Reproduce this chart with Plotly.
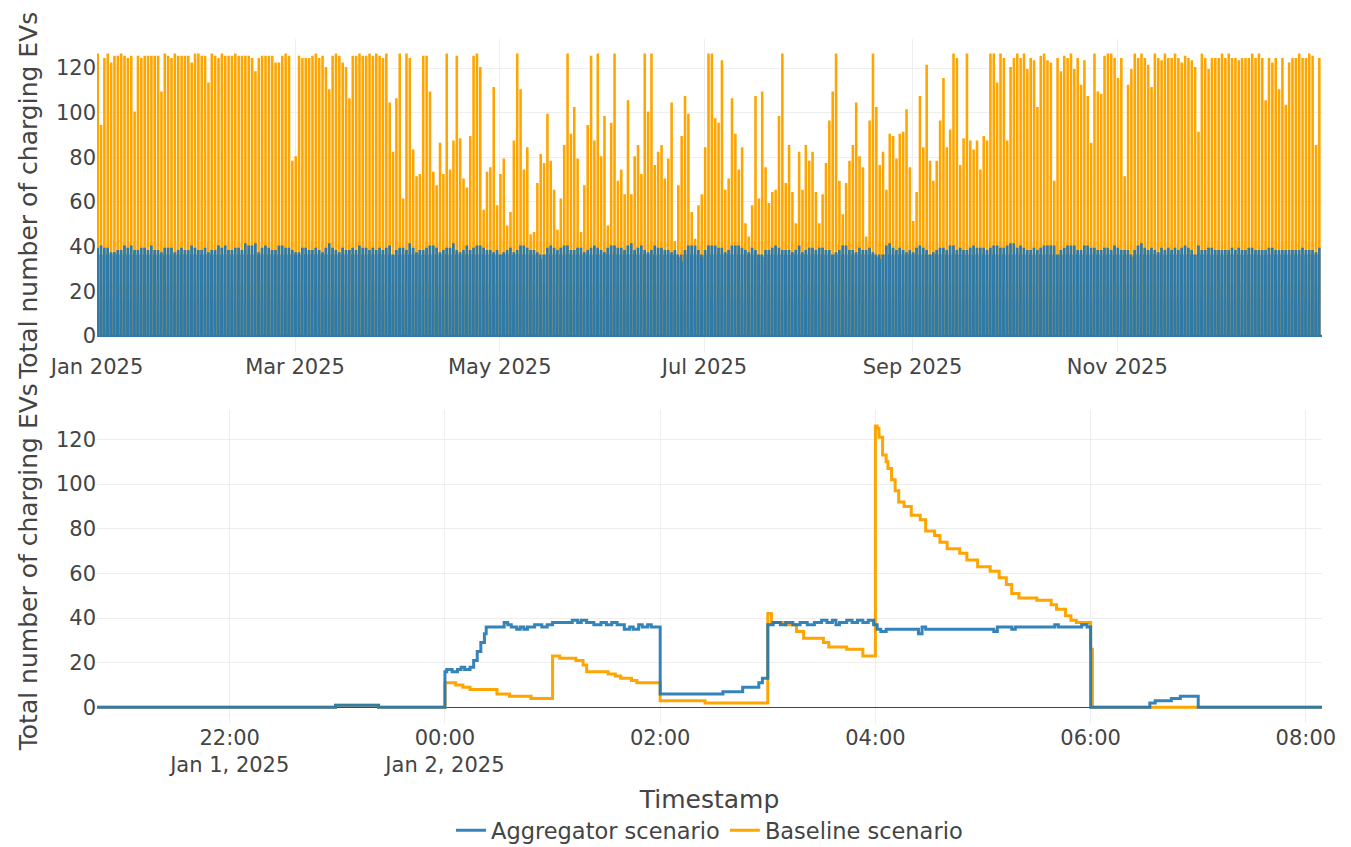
import pandas as pd
import plotly.graph_objects as go
from plotly.subplots import make_subplots

# ---------------- Top panel: full year (values read per day from the chart) ----------------
year_start = "2025-01-01"
year_end = "2026-01-01 00:00"

baseline_daily_peak = [
    126, 94, 124, 126, 122, 125, 125, 126, 125, 124,
    125, 100, 125, 124, 125, 125, 125, 125, 125, 109,
    126, 125, 124, 126, 125, 125, 125, 125, 122, 126,
    126, 125, 125, 113, 126, 125, 124, 126, 125, 125,
    125, 126, 125, 125, 125, 125, 124, 118, 124, 125,
    125, 125, 125, 122, 122, 125, 126, 125, 78, 80,
    125, 124, 124, 124, 125, 126, 124, 125, 120, 110,
    125, 126, 125, 122, 120, 106, 125, 125, 126, 125,
    125, 126, 125, 126, 125, 124, 126, 104, 82, 106,
    126, 61, 126, 124, 83, 71, 72, 125, 125, 109,
    73, 67, 86, 72, 126, 74, 87, 125, 88, 70,
    66, 89, 125, 126, 120, 56, 73, 75, 111, 58,
    72, 79, 49, 55, 87, 126, 110, 74, 84, 45,
    46, 68, 81, 77, 99, 78, 65, 47, 61, 85,
    126, 90, 102, 79, 46, 67, 94, 125, 87, 126,
    80, 98, 49, 95, 126, 69, 74, 63, 105, 63,
    80, 85, 72, 126, 100, 126, 76, 82, 85, 70,
    79, 104, 36, 67, 89, 107, 99, 55, 43, 58,
    63,
    84, 126, 126, 97, 95, 123, 65, 70, 106, 90,
    74, 84, 50, 44, 58, 107, 61, 109, 75, 59,
    64, 65, 98, 126, 68, 85, 64, 50, 82, 65,
    85, 78, 82, 64, 50, 63, 77, 96, 109, 126,
    69, 54, 68, 78, 85, 104, 80, 75, 44, 96,
    126, 102, 76, 82, 65, 90, 89, 79, 90, 91,
    101, 75, 51, 64, 107, 84, 121, 78, 69, 78,
    96, 115, 84, 92, 126, 124, 76, 88, 126, 87,
    83, 87, 74, 89, 87, 126, 126, 113, 126, 124,
    87, 120,
    124, 126, 124, 126, 119, 124, 123, 102, 125, 126,
    123, 122, 69, 124, 118, 125, 124, 126, 119, 124,
    112, 123, 107, 86, 126, 109, 108, 125, 126, 126,
    124, 115, 124, 71, 112, 119, 126, 124, 126, 124,
    121, 111, 126, 124, 123, 126, 124, 124, 126, 124,
    122, 125, 124, 123, 120, 91, 126, 124, 119, 124,
    124, 124, 126, 124, 126, 124, 124, 123, 124, 124,
    124, 126, 124, 126, 124, 105, 124, 122, 124, 110,
    124, 103, 122, 124, 124, 126, 124, 124, 126, 125,
    85, 124,
]

aggregator_daily_level = [
    39, 40, 39, 39, 37, 37, 38, 38, 40, 39,
    40, 38, 38, 39, 39, 38, 40, 38, 38, 37,
    39, 39, 39, 37, 38, 39, 38, 38, 40, 39,
    38, 38, 39, 37, 38, 38, 40, 39, 40, 38,
    38, 39, 39, 38, 41, 40, 40, 41, 37, 39,
    40, 39, 38, 38, 40, 40, 39, 39, 38, 37,
    37, 39, 39, 38, 38, 39, 38, 37, 39, 41,
    39, 38, 37, 39, 38, 38, 39, 38, 40, 39,
    39, 38, 39, 38, 39, 38, 39, 40, 36, 38,
    39, 39, 38, 41, 39, 37, 38, 38, 39, 40,
    40, 39, 37, 38, 39, 39, 41, 38, 37, 38,
    40, 38, 39, 40, 40, 39, 38, 38, 37, 38,
    36, 37, 38, 39, 37, 38, 40, 40, 39, 38,
    38, 37, 34, 36, 39, 40, 39, 38, 39, 40,
    40, 38, 38, 39, 39, 37, 38, 39, 40, 39,
    38, 37, 39, 40, 40, 39, 39, 38, 40, 41,
    38, 39, 40, 38, 37, 38, 40, 39, 39, 38,
    38, 37, 38, 35, 33, 38, 40, 40, 40, 38,
    35, 38, 40, 40, 40, 39, 39, 37, 38, 40,
    40, 40, 39, 38, 37, 39, 38, 36, 35, 38,
    38, 39, 40, 39, 38, 38, 38, 37, 38, 40,
    37, 38, 39, 39, 38, 39, 39, 38, 38, 36,
    37, 38, 40, 40, 38, 38, 37, 39, 38, 38,
    39, 37, 35, 34, 36, 40, 41, 39, 38, 39,
    38, 37, 38, 37, 39, 40, 39, 38, 36, 37,
    38, 39, 39, 38, 40, 40, 38, 39, 38, 38,
    39, 40, 39, 39, 39, 38, 39, 40, 40, 39,
    39, 40, 41, 41, 39, 40, 39, 38, 38, 39,
    38, 39, 40, 40, 40, 40, 36, 38, 39, 40,
    40, 40, 38, 38, 40, 40, 39, 39, 38, 38,
    39, 39, 38, 40, 39, 38, 38, 38, 35, 38,
    40, 41, 39, 38, 39, 38, 37, 39, 38, 39,
    38, 39, 38, 39, 40, 39, 38, 36, 40, 38,
    38, 39, 39, 38, 38, 38, 38, 38, 39, 38,
    39, 38, 38, 39, 39, 38, 38, 38, 38, 39,
    39, 38, 38, 38, 38, 38, 38, 38, 38, 39,
    38, 38, 38, 37, 39,
]

# Intraday step profile (hours after midnight).
# None marks the slot that takes that day's own value from the daily lists above.
baseline_profile_hours = [0, 1, 2, 3, 4, 6]
baseline_profile_values = [11, 23, 3, 42, None, 0]
aggregator_profile_hours = [0, 0.4, 2, 3, 6]
aggregator_profile_values = [16, 36, 6, None, 0]

# ---------------- Bottom panel: Jan 1 evening to Jan 2 morning ----------------
agg_time = [
    "2025-01-01 20:46", "2025-01-01 22:59", "2025-01-01 23:23",
    "2025-01-02 00:00", "2025-01-02 00:01", "2025-01-02 00:04", "2025-01-02 00:07",
    "2025-01-02 00:09", "2025-01-02 00:11", "2025-01-02 00:14", "2025-01-02 00:16",
    "2025-01-02 00:18", "2025-01-02 00:20", "2025-01-02 00:22", "2025-01-02 00:23",
    "2025-01-02 00:33", "2025-01-02 00:35", "2025-01-02 00:37", "2025-01-02 00:40",
    "2025-01-02 00:42", "2025-01-02 00:44", "2025-01-02 00:46", "2025-01-02 00:50",
    "2025-01-02 00:54", "2025-01-02 00:57", "2025-01-02 01:00", "2025-01-02 01:11",
    "2025-01-02 01:14", "2025-01-02 01:16", "2025-01-02 01:19", "2025-01-02 01:23",
    "2025-01-02 01:27", "2025-01-02 01:30", "2025-01-02 01:33", "2025-01-02 01:36",
    "2025-01-02 01:40", "2025-01-02 01:43", "2025-01-02 01:45", "2025-01-02 01:48",
    "2025-01-02 01:50", "2025-01-02 01:53", "2025-01-02 01:55", "2025-01-02 02:00",
    "2025-01-02 02:35", "2025-01-02 02:46", "2025-01-02 02:55", "2025-01-02 02:57",
    "2025-01-02 03:00", "2025-01-02 03:03", "2025-01-02 03:07", "2025-01-02 03:10",
    "2025-01-02 03:14", "2025-01-02 03:18", "2025-01-02 03:22", "2025-01-02 03:26",
    "2025-01-02 03:30", "2025-01-02 03:33", "2025-01-02 03:36", "2025-01-02 03:38",
    "2025-01-02 03:40", "2025-01-02 03:44", "2025-01-02 03:47", "2025-01-02 03:50",
    "2025-01-02 03:53", "2025-01-02 03:56", "2025-01-02 03:59", "2025-01-02 04:01",
    "2025-01-02 04:03", "2025-01-02 04:06", "2025-01-02 04:24", "2025-01-02 04:26",
    "2025-01-02 04:28", "2025-01-02 05:06", "2025-01-02 05:08", "2025-01-02 05:16",
    "2025-01-02 05:18", "2025-01-02 05:40", "2025-01-02 05:42", "2025-01-02 05:55",
    "2025-01-02 05:58", "2025-01-02 06:00", "2025-01-02 06:33", "2025-01-02 06:36",
    "2025-01-02 06:45", "2025-01-02 06:50", "2025-01-02 07:00", "2025-01-02 08:09",
]
agg_value = [
    0, 1, 0,
    16, 17, 16, 17,
    18, 17, 18, 21,
    25, 29, 33, 36,
    38, 37, 36, 35,
    36, 35, 36, 37,
    36, 37, 38, 39,
    38, 39, 38, 37,
    38, 37, 38, 37,
    35, 36, 35, 37,
    36, 37, 36, 6,
    7, 9, 11, 13,
    37, 38, 37, 38,
    37, 38, 37, 38,
    39, 38, 39, 37,
    38, 39, 38, 39,
    38, 39, 37, 35,
    34, 35, 33, 36,
    35, 34, 36, 35,
    36, 37, 36, 37,
    36, 0, 2, 3,
    4, 5, 0, 0,
]

base_time = [
    "2025-01-01 20:46", "2025-01-01 22:59", "2025-01-01 23:23",
    "2025-01-02 00:00", "2025-01-02 00:06", "2025-01-02 00:10", "2025-01-02 00:14",
    "2025-01-02 00:29", "2025-01-02 00:36", "2025-01-02 00:48", "2025-01-02 01:00",
    "2025-01-02 01:04", "2025-01-02 01:13", "2025-01-02 01:17", "2025-01-02 01:19",
    "2025-01-02 01:31", "2025-01-02 01:35", "2025-01-02 01:38", "2025-01-02 01:44",
    "2025-01-02 01:47", "2025-01-02 02:00", "2025-01-02 02:25", "2025-01-02 03:00",
    "2025-01-02 03:02", "2025-01-02 03:10", "2025-01-02 03:16", "2025-01-02 03:20",
    "2025-01-02 03:31", "2025-01-02 03:34", "2025-01-02 03:44", "2025-01-02 03:53",
    "2025-01-02 04:00", "2025-01-02 04:01", "2025-01-02 04:02", "2025-01-02 04:04",
    "2025-01-02 04:06", "2025-01-02 04:07", "2025-01-02 04:09", "2025-01-02 04:11",
    "2025-01-02 04:13", "2025-01-02 04:16", "2025-01-02 04:20", "2025-01-02 04:25",
    "2025-01-02 04:28", "2025-01-02 04:33", "2025-01-02 04:36", "2025-01-02 04:40",
    "2025-01-02 04:47", "2025-01-02 04:51", "2025-01-02 04:57", "2025-01-02 05:04",
    "2025-01-02 05:09", "2025-01-02 05:13", "2025-01-02 05:16", "2025-01-02 05:20",
    "2025-01-02 05:30", "2025-01-02 05:38", "2025-01-02 05:41", "2025-01-02 05:46",
    "2025-01-02 05:49", "2025-01-02 05:52", "2025-01-02 06:00", "2025-01-02 06:01",
    "2025-01-02 08:09",
]
base_value = [
    0, 1, 0,
    11, 10, 9, 8,
    6, 5, 4, 23,
    22, 21, 19, 16,
    15, 14, 13, 12,
    11, 3, 2, 42,
    38, 37, 34, 31,
    29, 27, 26, 23,
    126, 125, 121, 113,
    110, 107, 102, 97,
    92, 90, 86, 84,
    79, 77, 74, 71,
    69, 66, 63, 61,
    58, 55, 51, 49,
    48, 46, 44, 41,
    39, 38, 26, 0,
    0,
]

AGG_COLOR = "#1f77b4"
BASE_COLOR = "orange"

# ---------------- build top-panel series from the daily lists ----------------
days = pd.date_range(year_start, periods=len(baseline_daily_peak), freq="D")
top_base_x, top_base_y = [], []
for day, peak in zip(days, baseline_daily_peak):
    for h, v in zip(baseline_profile_hours, baseline_profile_values):
        top_base_x.append(day + pd.Timedelta(hours=h))
        top_base_y.append(peak if v is None else v)
top_base_x.append(pd.Timestamp(year_end))
top_base_y.append(0)

top_agg_x, top_agg_y = [], []
for day, level in zip(days, aggregator_daily_level):
    for h, v in zip(aggregator_profile_hours, aggregator_profile_values):
        top_agg_x.append(day + pd.Timedelta(hours=h))
        top_agg_y.append(level if v is None else v)
top_agg_x.append(pd.Timestamp(year_end))
top_agg_y.append(0)

fig = make_subplots(rows=2, cols=1, vertical_spacing=0.086)

fig.add_trace(go.Scatter(x=top_base_x, y=top_base_y, mode="lines", line_shape="hv",
                         line=dict(color=BASE_COLOR, width=2.3), showlegend=False,
                         name="Baseline scenario"), row=1, col=1)
fig.add_trace(go.Scatter(x=top_agg_x, y=top_agg_y, mode="lines", line_shape="hv",
                         line=dict(color=AGG_COLOR, width=2.3), opacity=0.92,
                         showlegend=False, name="Aggregator scenario"), row=1, col=1)

fig.add_trace(go.Scatter(x=pd.to_datetime(base_time), y=base_value, mode="lines",
                         line_shape="hv", line=dict(color=BASE_COLOR, width=3),
                         name="Baseline scenario", legendrank=2), row=2, col=1)
fig.add_trace(go.Scatter(x=pd.to_datetime(agg_time), y=agg_value, mode="lines",
                         line_shape="hv", line=dict(color=AGG_COLOR, width=3), opacity=0.9,
                         name="Aggregator scenario", legendrank=1), row=2, col=1)

FONT = "Verdana, DejaVu Sans, sans-serif"
fig.update_layout(
    template="none",
    width=1351, height=847,
    margin=dict(l=97, r=29, t=39, b=124, autoexpand=False),
    font=dict(family=FONT, size=21, color="#444"),
    paper_bgcolor="white", plot_bgcolor="white",
    legend=dict(orientation="h", x=0.5, xanchor="center", y=-0.126, yanchor="top",
                font=dict(size=22.5)),
)
fig.update_xaxes(tickfont=dict(size=21), gridcolor="#eee")
fig.update_yaxes(tickfont=dict(size=21), gridcolor="#eee", zerolinecolor="#444",
                 zerolinewidth=1,
                 title=dict(text="Total number of charging EVs", font=dict(size=25)))
fig.update_xaxes(title=dict(text="Timestamp", font=dict(size=25)), row=2, col=1)

fig.write_html("out.html", config={"displayModeBar": False},
               post_script="document.body.style.margin='0';")
